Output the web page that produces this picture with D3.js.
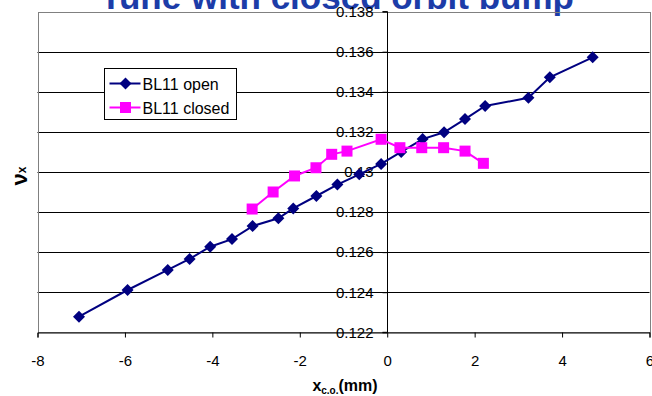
<!DOCTYPE html>
<html>
<head>
<meta charset="utf-8">
<script src="https://cdn.jsdelivr.net/npm/d3@7"></script>
<style>
  body { margin: 0; background: #fff; }
  svg { display: block; font-family: "Liberation Sans", Arial, sans-serif; }
</style>
</head>
<body>
<div id="chart"></div>
<script>
// Data
var openX   = [-7.05, -5.94, -5.02, -4.52, -4.05, -3.55, -3.08, -2.49, -2.15, -1.62, -1.14, -0.64, -0.14, 0.32, 0.81, 1.30, 1.78, 2.24, 3.23, 3.72, 4.70];
var openY   = [0.12278, 0.12411, 0.12511, 0.12566, 0.12627, 0.12665, 0.1273, 0.12769, 0.12818, 0.1288, 0.12937, 0.12988, 0.1304, 0.1310, 0.13164, 0.13198, 0.13264, 0.13329, 0.1337, 0.13472, 0.13572];
var closedX = [-3.09, -2.61, -2.12, -1.63, -1.27, -0.92, -0.14, 0.29, 0.79, 1.29, 1.78, 2.20];
var closedY = [0.12815, 0.1290, 0.1298, 0.13021, 0.13088, 0.13104, 0.13163, 0.13121, 0.13121, 0.13121, 0.13104, 0.13043];
var xTicks = [-8, -6, -4, -2, 0, 2, 4, 6];
var yTicks = [0.122, 0.124, 0.126, 0.128, 0.13, 0.132, 0.134, 0.136, 0.138];
var seriesNames = ["BL11 open", "BL11 closed"];

var width = 652, height = 396;

var svg = d3.select("#chart")
    .append("svg")
    .attr("width", width)
    .attr("height", height);

// Scales
var x = d3.scaleLinear().domain([-8, 6]).range([37.5, 649.5]);
var y = d3.scaleLinear().domain([0.122, 0.138]).range([332.3, 11.6]);

// Title (partly cut off at the top)
svg.append("text")
    .attr("x", 574)
    .attr("y", 9)
    .attr("text-anchor", "end")
    .style("font-size", "35px")
    .style("font-weight", "bold")
    .style("fill", "#1c3ca8")
    .text("Tune with closed orbit bump");

// Gridlines
svg.append("g")
    .selectAll("line")
    .data(yTicks.slice(1, -1))
    .enter()
    .append("line")
    .attr("x1", x(-8))
    .attr("x2", x(6))
    .attr("y1", d => Math.round(y(d)) + 0.5)
    .attr("y2", d => Math.round(y(d)) + 0.5)
    .attr("stroke", "#000")
    .attr("stroke-width", 1);

// Plot area border (grey)
svg.append("rect")
    .attr("x", Math.round(x(-8)) + 0.5)
    .attr("y", Math.round(y(0.138)) + 0.5)
    .attr("width", Math.round(x(6)) - Math.round(x(-8)))
    .attr("height", Math.round(y(0.122)) - Math.round(y(0.138)))
    .attr("fill", "none")
    .attr("stroke", "#808080")
    .attr("stroke-width", 1);

// X axis at the bottom
var xAxis = svg.append("g")
    .attr("transform", "translate(0," + (Math.round(y(0.122)) + 0.5) + ")")
    .call(d3.axisBottom(x).tickValues(xTicks).tickSize(5).tickPadding(18).tickFormat(d => String(d)));
xAxis.select(".domain").attr("stroke", "#000");
xAxis.selectAll("text")
    .style("font-size", "15px")
    .style("font-family", "\"Liberation Sans\", Arial, sans-serif")
    .attr("fill", "#000");

// Y axis at x = 0
var yAxis = svg.append("g")
    .attr("transform", "translate(" + (Math.round(x(0)) + 0.5) + ",0)")
    .call(d3.axisLeft(y).tickValues(yTicks).tickSize(5).tickPadding(9).tickFormat(d => d === 0.13 ? "0.13" : d3.format(".3f")(d)));
yAxis.select(".domain").attr("stroke", "#000").attr("d", "M-5," + y(0.138) + "H0V" + y(0.122) + "H-5");
yAxis.selectAll("text")
    .style("font-size", "15px")
    .style("font-family", "\"Liberation Sans\", Arial, sans-serif")
    .attr("fill", "#000");

// Axis titles
var yLabel = svg.append("text")
    .attr("transform", "translate(27,176) rotate(-90)")
    .attr("text-anchor", "middle")
    .style("font-weight", "bold");
yLabel.append("tspan").style("font-size", "22px").text("\u03bd");
yLabel.append("tspan").style("font-size", "12px").attr("dy", -1).text("x");

var xLabel = svg.append("text")
    .attr("x", 345)
    .attr("y", 391)
    .attr("text-anchor", "middle")
    .style("font-weight", "bold")
    .style("font-size", "16px");
xLabel.append("tspan").text("x");
xLabel.append("tspan").style("font-size", "10px").attr("dy", 3).text("c.o.");
xLabel.append("tspan").attr("dy", -3).text("(mm)");

// Lines and markers
var line = d3.line()
    .x(d => x(d[0]))
    .y(d => y(d[1]));

var openData = openX.map((v, i) => [v, openY[i]]);
var closedData = closedX.map((v, i) => [v, closedY[i]]);

var diamond = d3.symbol().type(d3.symbolSquare).size(72);
var square = d3.symbol().type(d3.symbolSquare).size(121);

svg.append("path")
    .datum(openData)
    .attr("fill", "none")
    .attr("stroke", "#000080")
    .attr("stroke-width", 2)
    .attr("d", line);

svg.append("path")
    .datum(closedData)
    .attr("fill", "none")
    .attr("stroke", "#ff00ff")
    .attr("stroke-width", 2)
    .attr("d", line);

svg.append("g")
    .selectAll("path")
    .data(openData)
    .enter()
    .append("path")
    .attr("d", diamond)
    .attr("transform", d => "translate(" + x(d[0]) + "," + y(d[1]) + ") rotate(45)")
    .attr("fill", "#000080");

svg.append("g")
    .selectAll("path")
    .data(closedData)
    .enter()
    .append("path")
    .attr("d", square)
    .attr("transform", d => "translate(" + x(d[0]) + "," + y(d[1]) + ")")
    .attr("fill", "#ff00ff");

// Legend
var legend = svg.append("g").attr("transform", "translate(104.5,68.5)");
legend.append("rect")
    .attr("width", 132)
    .attr("height", 51)
    .attr("fill", "#fff")
    .attr("stroke", "#000");

var colors = ["#000080", "#ff00ff"];
seriesNames.forEach(function (name, i) {
    var ly = 15 + i * 24;
    legend.append("line")
        .attr("x1", 5).attr("x2", 36)
        .attr("y1", ly).attr("y2", ly)
        .attr("stroke", colors[i])
        .attr("stroke-width", 2);
    legend.append("path")
        .attr("d", i === 0 ? diamond : square)
        .attr("transform", "translate(21," + ly + ")" + (i === 0 ? " rotate(45)" : ""))
        .attr("fill", colors[i]);
    legend.append("text")
        .attr("x", 38)
        .attr("y", ly + 6)
        .style("font-size", "16px")
        .text(name);
});
</script>
</body>
</html>
